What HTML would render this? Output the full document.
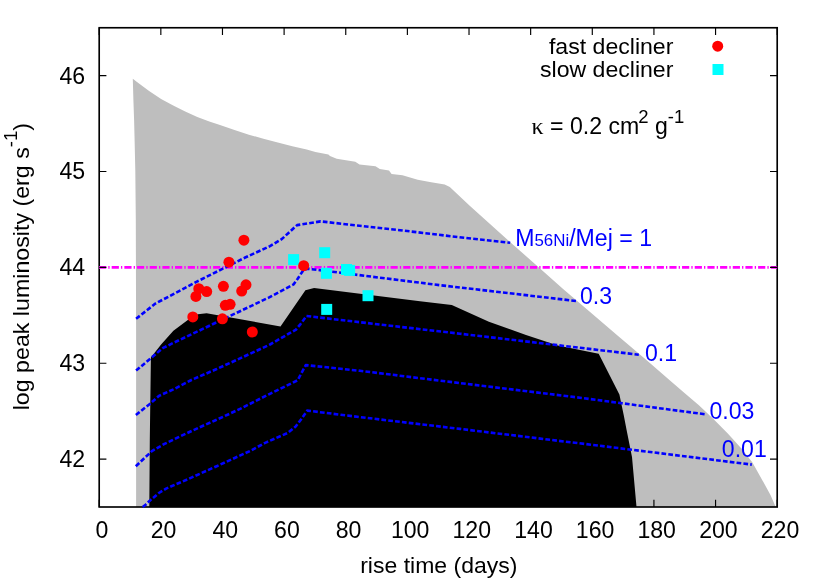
<!DOCTYPE html>
<html><head><meta charset="utf-8"><title>plot</title>
<style>
html,body{margin:0;padding:0;background:#fff;}
body{width:830px;height:581px;overflow:hidden;}
svg{display:block;will-change:transform;}
svg text{font-family:"Liberation Sans",sans-serif;font-size:23.1px;fill:#000;}
</style></head><body>
<svg width="830" height="581" viewBox="0 0 830 581">
<rect width="830" height="581" fill="#fff"/>
<polygon points="132.8,78.7 137.0,82.0 149.1,91.1 161.1,98.9 173.2,105.5 185.2,111.6 197.3,117.0 209.3,121.6 220.0,125.0 234.5,130.1 248.9,134.7 263.4,138.7 277.8,142.6 292.3,146.3 306.7,149.6 315.4,152.0 328.4,154.6 330.0,156.1 336.7,158.7 355.3,161.7 359.5,164.6 375.5,166.3 379.8,169.1 389.0,170.5 391.6,173.9 402.5,175.2 417.7,179.8 431.2,182.3 444.7,184.5 449.8,187.0 470.0,205.9 480.0,215.1 508.9,241.1 537.8,266.4 563.1,289.0 588.9,311.1 617.8,335.7 646.7,360.2 670.0,380.6 684.5,393.0 698.9,405.3 713.4,419.0 727.8,433.5 742.3,449.4 752.4,462.4 765.0,485.0 770.6,495.3 775.3,505.9 775.7,507.0 136.1,507.0 136.1,330.0 135.8,220.0 135.3,170.0 134.6,140.0 134.1,120.0 133.4,100.0" fill="#bebebe"/>
<polygon points="149.3,507.0 149.8,440.0 150.9,357.6 161.1,344.4 173.4,330.7 187.8,319.9 197.9,314.3 206.6,313.2 280.5,326.4 305.4,290.2 314.1,288.1 420.0,301.3 451.8,305.0 488.9,321.7 526.0,334.9 557.8,345.5 598.7,353.8 619.4,394.5 623.9,416.0 626.6,430.0 632.0,457.0 636.5,507.0" fill="#000"/>
<rect x="99.2" y="27.75" width="678.0" height="479.25" fill="none" stroke="#000" stroke-width="1.65"/>
<line x1="99.0" y1="267.4" x2="777.2" y2="267.4" stroke="#ff00ff" stroke-width="2.6" stroke-dasharray="7.2 2.1 1.3 2.075"/>
<polyline points="136.1,318.8 155.4,303.6 196.4,281.9 244.6,257.8 270.0,246.1 282.0,238.9 292.8,229.0 297.1,225.1 320.6,221.4 400.0,230.2 464.1,237.8 510.2,242.8" fill="none" stroke="#0000ff" stroke-width="2.6" stroke-dasharray="4.7 2.18" stroke-linejoin="round"/>
<polyline points="136.1,370.6 162.7,348.2 172.3,343.4 220.5,320.5 268.7,297.6 293.7,284.3 297.7,278.7 303.5,269.9 308.0,268.7 440.0,285.2 576.3,301.0" fill="none" stroke="#0000ff" stroke-width="2.6" stroke-dasharray="4.7 2.18" stroke-linejoin="round"/>
<polyline points="135.9,415.0 149.8,403.9 158.9,395.9 173.4,389.4 191.4,380.0 216.7,369.0 250.0,353.8 270.0,344.5 296.0,329.6 300.5,324.1 306.5,316.0 390.0,325.7 460.0,333.7 580.0,347.8 638.8,354.7" fill="none" stroke="#0000ff" stroke-width="2.6" stroke-dasharray="4.7 2.18" stroke-linejoin="round"/>
<polyline points="135.8,466.2 149.6,453.3 151.9,451.1 164.5,443.9 177.5,437.6 190.0,431.8 202.5,426.0 215.5,420.2 228.1,414.5 240.0,408.9 268.9,394.3 297.8,380.2 301.2,373.5 305.8,365.1 360.0,370.8 460.0,383.1 580.0,397.7 706.1,414.4" fill="none" stroke="#0000ff" stroke-width="2.6" stroke-dasharray="4.7 2.18" stroke-linejoin="round"/>
<polyline points="142.7,507.0 145.6,504.7 149.5,500.9 158.9,493.0 166.1,488.6 187.8,479.2 216.7,466.2 250.0,451.0 264.6,443.1 287.7,433.0 295.7,426.5 301.0,419.5 307.2,410.6 360.0,417.1 460.0,428.9 600.0,445.8 751.8,464.6" fill="none" stroke="#0000ff" stroke-width="2.6" stroke-dasharray="4.7 2.18" stroke-linejoin="round"/>
<path d="M99.20 507.0v-7.2M99.20 27.75v7.2M160.84 507.0v-7.2M160.84 27.75v7.2M222.47 507.0v-7.2M222.47 27.75v7.2M284.11 507.0v-7.2M284.11 27.75v7.2M345.75 507.0v-7.2M345.75 27.75v7.2M407.38 507.0v-7.2M407.38 27.75v7.2M469.02 507.0v-7.2M469.02 27.75v7.2M530.65 507.0v-7.2M530.65 27.75v7.2M592.29 507.0v-7.2M592.29 27.75v7.2M653.93 507.0v-7.2M653.93 27.75v7.2M715.56 507.0v-7.2M715.56 27.75v7.2M777.20 507.0v-7.2M777.20 27.75v7.2M99.2 459.07h7.2M777.2 459.07h-7.2M99.2 363.23h7.2M777.2 363.23h-7.2M99.2 267.38h7.2M777.2 267.38h-7.2M99.2 171.52h7.2M777.2 171.52h-7.2M99.2 75.68h7.2M777.2 75.68h-7.2" stroke="#000" stroke-width="1.15" fill="none"/>
<rect x="288.1" y="254.1" width="11" height="11" fill="#00ffff"/>
<rect x="319.2" y="247.2" width="11" height="11" fill="#00ffff"/>
<rect x="320.9" y="267.8" width="11" height="11" fill="#00ffff"/>
<rect x="341.0" y="264.0" width="11" height="11" fill="#00ffff"/>
<rect x="344.1" y="264.9" width="11" height="11" fill="#00ffff"/>
<rect x="362.5" y="290.2" width="11" height="11" fill="#00ffff"/>
<rect x="321.2" y="303.9" width="11" height="11" fill="#00ffff"/>
<circle cx="243.9" cy="240.2" r="5.5" fill="#ff0000"/>
<circle cx="228.9" cy="262.2" r="5.5" fill="#ff0000"/>
<circle cx="223.4" cy="286.3" r="5.5" fill="#ff0000"/>
<circle cx="246.0" cy="284.8" r="5.5" fill="#ff0000"/>
<circle cx="241.7" cy="291.1" r="5.5" fill="#ff0000"/>
<circle cx="198.8" cy="288.7" r="5.5" fill="#ff0000"/>
<circle cx="206.7" cy="291.6" r="5.5" fill="#ff0000"/>
<circle cx="195.9" cy="296.4" r="5.5" fill="#ff0000"/>
<circle cx="225.3" cy="305.3" r="5.5" fill="#ff0000"/>
<circle cx="230.1" cy="304.3" r="5.5" fill="#ff0000"/>
<circle cx="192.8" cy="316.9" r="5.5" fill="#ff0000"/>
<circle cx="222.4" cy="318.8" r="5.5" fill="#ff0000"/>
<circle cx="252.3" cy="332.0" r="5.5" fill="#ff0000"/>
<circle cx="303.7" cy="265.7" r="5.5" fill="#ff0000"/>
<circle cx="717.7" cy="46.2" r="5.5" fill="#ff0000"/>
<rect x="712.5" y="64" width="11" height="11" fill="#00ffff"/>
<text x="102.0" y="537.6" text-anchor="middle">0</text>
<text x="163.6" y="537.6" text-anchor="middle">20</text>
<text x="225.3" y="537.6" text-anchor="middle">40</text>
<text x="286.9" y="537.6" text-anchor="middle">60</text>
<text x="348.5" y="537.6" text-anchor="middle">80</text>
<text x="410.2" y="537.6" text-anchor="middle">100</text>
<text x="471.8" y="537.6" text-anchor="middle">120</text>
<text x="533.5" y="537.6" text-anchor="middle">140</text>
<text x="595.1" y="537.6" text-anchor="middle">160</text>
<text x="656.7" y="537.6" text-anchor="middle">180</text>
<text x="718.4" y="537.6" text-anchor="middle">200</text>
<text x="780.0" y="537.6" text-anchor="middle">220</text>
<text x="85.2" y="467.0" text-anchor="end">42</text>
<text x="85.2" y="371.1" text-anchor="end">43</text>
<text x="85.2" y="275.3" text-anchor="end">44</text>
<text x="85.2" y="179.4" text-anchor="end">45</text>
<text x="85.2" y="83.6" text-anchor="end">46</text>
<text transform="translate(360.2,573.0) scale(1.032,1)" style="font-size:22.3px">rise time (days)</text>
<text transform="translate(28.7,410.3) rotate(-90) scale(1.041,1)" style="font-size:22.3px">log peak luminosity (erg s<tspan dy="-12" font-size="17.8">-1</tspan><tspan dy="12">)</tspan></text>
<text transform="translate(673.4,53.6) scale(1.036,1)" style="font-size:22.3px" text-anchor="end">fast decliner</text>
<text transform="translate(673.4,76.7) scale(1.036,1)" style="font-size:22.3px" text-anchor="end">slow decliner</text>
<text x="531.5" y="133.6"><tspan font-family="Liberation Serif" font-size="24">κ</tspan> = 0.2 cm<tspan dy="-11" dx="-1" font-size="18.5">2</tspan><tspan dy="11"> g</tspan><tspan dy="-11" font-size="18.5">-1</tspan></text>
<text x="515.2" y="246.4" style="fill:#0000ff">M<tspan font-size="16.9">56Ni</tspan>/Mej = 1</text>
<text x="579.9" y="303.6" style="fill:#0000ff">0.3</text>
<text x="645" y="361" style="fill:#0000ff">0.1</text>
<text x="709.5" y="419.0" style="fill:#0000ff">0.03</text>
<text x="721.8" y="457.0" style="fill:#0000ff">0.01</text>
</svg>
</body></html>
